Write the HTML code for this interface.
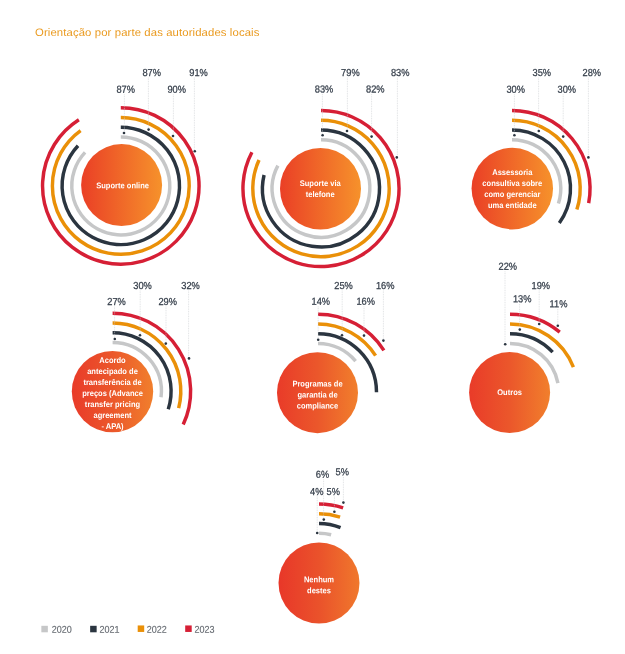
<!DOCTYPE html>
<html lang="pt"><head><meta charset="utf-8"><title>Orientação por parte das autoridades locais</title>
<style>
html,body{margin:0;padding:0;background:#fff;}
body{width:625px;height:654px;overflow:hidden;font-family:"Liberation Sans",sans-serif;}
svg{display:block;opacity:0.999;will-change:transform;}
svg text{font-family:"Liberation Sans",sans-serif;text-rendering:geometricPrecision;}
.lbl{font-size:10.1px;fill:#38414d;text-anchor:middle;stroke:#38414d;stroke-width:0.26px;}
.dt{font-size:8.2px;font-weight:bold;fill:#fff;text-anchor:middle;}
.lg{font-size:9.8px;fill:#62676e;stroke:#62676e;stroke-width:0.12px;}
.ld{stroke:#c9ccd0;stroke-width:0.6;stroke-dasharray:0.9 0.8;fill:none;}
.ar{fill:none;stroke-width:3.45;}
</style></head><body>
<svg width="625" height="654" viewBox="0 0 625 654">
<defs><linearGradient id="g1" x1="0" y1="0" x2="1" y2="0"><stop offset="0" stop-color="#ea3f26"/><stop offset="1" stop-color="#f6922b"/></linearGradient><linearGradient id="g2" x1="0" y1="0" x2="1" y2="0"><stop offset="0" stop-color="#e93b29"/><stop offset="0.5" stop-color="#eb572b"/><stop offset="1" stop-color="#f17f2c"/></linearGradient><linearGradient id="g3" x1="0" y1="0" x2="1" y2="0"><stop offset="0" stop-color="#e83729"/><stop offset="0.5" stop-color="#ea522b"/><stop offset="1" stop-color="#f0782c"/></linearGradient></defs>
<rect width="625" height="654" fill="#fff"/>
<text transform="translate(35 36.1) rotate(0.02)" textLength="224.5" lengthAdjust="spacingAndGlyphs" style="font-size:10.9px;fill:#ea9a1f;letter-spacing:0.1px;">Orientação por parte das autoridades locais</text>
<g>
<path class="ar" stroke="#c6c7c8" d="M120.8 136.9A49 49 0 1 1 85.08 152.36"/>
<path class="ar" stroke="#2b3540" d="M120.8 127.2A58.7 58.7 0 1 1 78.01 145.72"/>
<path class="ar" stroke="#ea9008" d="M120.8 117.5A68.4 68.4 0 1 1 80.6 130.56"/>
<path class="ar" stroke="#d61f35" d="M120.8 107.65A78.25 78.25 0 1 1 78.87 119.83"/>
<path class="ld" d="M124.4 94.4V133"/>
<path class="ld" d="M148.4 77.6V129.6"/>
<path class="ld" d="M173.4 94.4V136"/>
<path class="ld" d="M194.4 77.6V151.2"/>
<circle cx="124" cy="133" r="1.3" fill="#2b3540"/>
<circle cx="148.6" cy="129.6" r="1.3" fill="#2b3540"/>
<circle cx="173" cy="136" r="1.3" fill="#2b3540"/>
<circle cx="194.8" cy="151.2" r="1.3" fill="#2b3540"/>
<text class="lbl" transform="translate(125.7 92.75) rotate(0.05) scale(0.92 1)">87%</text>
<text class="lbl" transform="translate(151.7 75.95) rotate(0.05) scale(0.92 1)">87%</text>
<text class="lbl" transform="translate(176.7 92.75) rotate(0.05) scale(0.92 1)">90%</text>
<text class="lbl" transform="translate(198.5 75.95) rotate(0.05) scale(0.92 1)">91%</text>
<ellipse cx="121.6" cy="185.1" rx="40.5" ry="41" fill="url(#g1)"/>
<text class="dt" transform="translate(122.6 188.3) rotate(0.05) scale(0.92 1)">Suporte online</text>
</g>
<g>
<path class="ar" stroke="#c6c7c8" d="M321 139.7A48.8 48.8 0 1 1 277.87 165.67"/>
<path class="ar" stroke="#2b3540" d="M321 130A58.5 58.5 0 1 1 264.07 175.02"/>
<path class="ar" stroke="#ea9008" d="M321 120.3A68.2 68.2 0 1 1 259.02 160.04"/>
<path class="ar" stroke="#d61f35" d="M321 110.45A78.05 78.05 0 1 1 251.91 152.19"/>
<path class="ld" d="M322.4 94.2V135.2"/>
<path class="ld" d="M347.4 77.6V131"/>
<path class="ld" d="M371.6 94.2V136.6"/>
<path class="ld" d="M397.4 77.6V157.4"/>
<circle cx="322.6" cy="135.2" r="1.3" fill="#2b3540"/>
<circle cx="347" cy="131" r="1.3" fill="#2b3540"/>
<circle cx="371.6" cy="136.6" r="1.3" fill="#2b3540"/>
<circle cx="396.8" cy="157.4" r="1.3" fill="#2b3540"/>
<text class="lbl" transform="translate(324 92.55) rotate(0.05) scale(0.92 1)">83%</text>
<text class="lbl" transform="translate(350.4 75.95) rotate(0.05) scale(0.92 1)">79%</text>
<text class="lbl" transform="translate(375.3 92.55) rotate(0.05) scale(0.92 1)">82%</text>
<text class="lbl" transform="translate(400.2 75.95) rotate(0.05) scale(0.92 1)">83%</text>
<ellipse cx="320.5" cy="188.75" rx="40.5" ry="40.85" fill="url(#g1)"/>
<text class="dt" transform="translate(320.2 185.95) rotate(0.05) scale(0.92 1)">Suporte via</text>
<text class="dt" transform="translate(320.2 196.95) rotate(0.05) scale(0.92 1)">telefone</text>
</g>
<g>
<path class="ar" stroke="#c6c7c8" d="M512 139.7A48.8 48.8 0 0 1 558.41 203.58"/>
<path class="ar" stroke="#2b3540" d="M512 130A58.5 58.5 0 0 1 559.33 222.89"/>
<path class="ar" stroke="#ea9008" d="M512 120.3A68.2 68.2 0 0 1 576.86 209.57"/>
<path class="ar" stroke="#d61f35" d="M512 110.45A78.05 78.05 0 0 1 588.67 203.13"/>
<path class="ld" d="M514.4 94.4V135.2"/>
<path class="ld" d="M538.6 77.6V131"/>
<path class="ld" d="M563.2 94.4V136.6"/>
<path class="ld" d="M588.4 77.6V157.4"/>
<circle cx="514.4" cy="135.2" r="1.3" fill="#2b3540"/>
<circle cx="538.8" cy="131" r="1.3" fill="#2b3540"/>
<circle cx="563.2" cy="136.6" r="1.3" fill="#2b3540"/>
<circle cx="588.4" cy="157.4" r="1.3" fill="#2b3540"/>
<text class="lbl" transform="translate(515.7 92.75) rotate(0.05) scale(0.92 1)">30%</text>
<text class="lbl" transform="translate(541.8 75.95) rotate(0.05) scale(0.92 1)">35%</text>
<text class="lbl" transform="translate(566.8 92.75) rotate(0.05) scale(0.92 1)">30%</text>
<text class="lbl" transform="translate(591.8 75.95) rotate(0.05) scale(0.92 1)">28%</text>
<ellipse cx="512.3" cy="188.6" rx="40.75" ry="40.8" fill="url(#g1)"/>
<text class="dt" transform="translate(512.3 175.1) rotate(0.05) scale(0.92 1)">Assessoria</text>
<text class="dt" transform="translate(512.3 186.1) rotate(0.05) scale(0.92 1)">consultiva sobre</text>
<text class="dt" transform="translate(512.3 197.1) rotate(0.05) scale(0.92 1)">como gerenciar</text>
<text class="dt" transform="translate(512.3 208.1) rotate(0.05) scale(0.92 1)">uma entidade</text>
</g>
<g>
<path class="ar" stroke="#c6c7c8" d="M112.6 342.4A48.8 48.8 0 0 1 161.02 397.32"/>
<path class="ar" stroke="#2b3540" d="M112.6 332.7A58.5 58.5 0 0 1 168.24 409.28"/>
<path class="ar" stroke="#ea9008" d="M112.6 323A68.2 68.2 0 0 1 178.66 408.16"/>
<path class="ar" stroke="#d61f35" d="M112.6 313.15A78.05 78.05 0 0 1 183.22 424.43"/>
<path class="ld" d="M114.6 306.6V339"/>
<path class="ld" d="M140.2 290.6V335.2"/>
<path class="ld" d="M166 306.6V343.6"/>
<path class="ld" d="M188.6 290.6V358.4"/>
<circle cx="114.8" cy="339" r="1.3" fill="#2b3540"/>
<circle cx="140" cy="335.2" r="1.3" fill="#2b3540"/>
<circle cx="165.8" cy="343.6" r="1.3" fill="#2b3540"/>
<circle cx="189" cy="358.4" r="1.3" fill="#2b3540"/>
<text class="lbl" transform="translate(116.5 304.95) rotate(0.05) scale(0.92 1)">27%</text>
<text class="lbl" transform="translate(142.5 288.95) rotate(0.05) scale(0.92 1)">30%</text>
<text class="lbl" transform="translate(167.7 304.95) rotate(0.05) scale(0.92 1)">29%</text>
<text class="lbl" transform="translate(190.5 288.95) rotate(0.05) scale(0.92 1)">32%</text>
<ellipse cx="112.5" cy="391.6" rx="40.7" ry="40.7" fill="url(#g2)"/>
<text class="dt" transform="translate(112.5 363) rotate(0.05) scale(0.92 1)">Acordo</text>
<text class="dt" transform="translate(112.5 374) rotate(0.05) scale(0.92 1)">antecipado de</text>
<text class="dt" transform="translate(112.5 385) rotate(0.05) scale(0.92 1)">transferência de</text>
<text class="dt" transform="translate(112.5 396) rotate(0.05) scale(0.92 1)">preços (Advance</text>
<text class="dt" transform="translate(112.5 407) rotate(0.05) scale(0.92 1)">transfer pricing</text>
<text class="dt" transform="translate(112.5 418) rotate(0.05) scale(0.92 1)">agreement</text>
<text class="dt" transform="translate(112.5 429) rotate(0.05) scale(0.92 1)">- APA)</text>
</g>
<g>
<path class="ar" stroke="#c6c7c8" d="M318 343.4A48.8 48.8 0 0 1 355.6 361.09"/>
<path class="ar" stroke="#2b3540" d="M318 333.7A58.5 58.5 0 0 1 376.5 392.2"/>
<path class="ar" stroke="#ea9008" d="M318 324A68.2 68.2 0 0 1 375.58 355.66"/>
<path class="ar" stroke="#d61f35" d="M318 314.15A78.05 78.05 0 0 1 383.9 350.38"/>
<path class="ld" d="M318.2 306.4V339.8"/>
<path class="ld" d="M342.2 290.6V335.2"/>
<path class="ld" d="M364 306.4V335.6"/>
<path class="ld" d="M383.4 290.6V340.6"/>
<circle cx="318.2" cy="339.8" r="1.3" fill="#2b3540"/>
<circle cx="342" cy="335.2" r="1.3" fill="#2b3540"/>
<circle cx="364" cy="335.6" r="1.3" fill="#2b3540"/>
<circle cx="383.4" cy="340.6" r="1.3" fill="#2b3540"/>
<text class="lbl" transform="translate(320.8 304.75) rotate(0.05) scale(0.92 1)">14%</text>
<text class="lbl" transform="translate(343.5 288.95) rotate(0.05) scale(0.92 1)">25%</text>
<text class="lbl" transform="translate(365.7 304.75) rotate(0.05) scale(0.92 1)">16%</text>
<text class="lbl" transform="translate(385.2 288.95) rotate(0.05) scale(0.92 1)">16%</text>
<ellipse cx="317.5" cy="392.7" rx="40.5" ry="40.5" fill="url(#g2)"/>
<text class="dt" transform="translate(317.5 386.4) rotate(0.05) scale(0.92 1)">Programas de</text>
<text class="dt" transform="translate(317.5 397.4) rotate(0.05) scale(0.92 1)">garantia de</text>
<text class="dt" transform="translate(317.5 408.4) rotate(0.05) scale(0.92 1)">compliance</text>
</g>
<g>
<path class="ar" stroke="#c6c7c8" d="M510 343.4A48.8 48.8 0 0 1 557.94 383.06"/>
<path class="ar" stroke="#2b3540" d="M510 333.7A58.5 58.5 0 0 1 552.64 352.15"/>
<path class="ar" stroke="#ea9008" d="M510 324A68.2 68.2 0 0 1 573.41 367.09"/>
<path class="ar" stroke="#d61f35" d="M510 314.15A78.05 78.05 0 0 1 559.75 332.06"/>
<path class="ld" d="M505 271.4V344.2"/>
<path class="ld" d="M519.6 304V329.6"/>
<path class="ld" d="M539.2 290.6V324"/>
<path class="ld" d="M557.8 309V325.8"/>
<circle cx="505.2" cy="344.2" r="1.3" fill="#2b3540"/>
<circle cx="519.8" cy="329.6" r="1.3" fill="#2b3540"/>
<circle cx="539.2" cy="324" r="1.3" fill="#2b3540"/>
<circle cx="557.8" cy="325.8" r="1.3" fill="#2b3540"/>
<text class="lbl" transform="translate(507.8 269.75) rotate(0.05) scale(0.92 1)">22%</text>
<text class="lbl" transform="translate(522.2 302.35) rotate(0.05) scale(0.92 1)">13%</text>
<text class="lbl" transform="translate(540.8 288.95) rotate(0.05) scale(0.92 1)">19%</text>
<text class="lbl" transform="translate(558.5 307.35) rotate(0.05) scale(0.92 1)">11%</text>
<ellipse cx="509.6" cy="392.55" rx="40.5" ry="40.5" fill="url(#g2)"/>
<text class="dt" transform="translate(509.6 394.95) rotate(0.05) scale(0.92 1)">Outros</text>
</g>
<g>
<path class="ar" stroke="#c6c7c8" d="M319 533.2A48.8 48.8 0 0 1 331.14 534.73"/>
<path class="ar" stroke="#2b3540" d="M319 523.5A58.5 58.5 0 0 1 340.54 527.61"/>
<path class="ar" stroke="#ea9008" d="M319 513.8A68.2 68.2 0 0 1 340.07 517.14"/>
<path class="ar" stroke="#d61f35" d="M319 503.95A78.05 78.05 0 0 1 343.12 507.77"/>
<path class="ld" d="M317.2 496.6V533"/>
<path class="ld" d="M323.6 479.4V519.6"/>
<path class="ld" d="M334.4 496.6V511.8"/>
<path class="ld" d="M343.4 477V502.6"/>
<circle cx="317.2" cy="533" r="1.3" fill="#2b3540"/>
<circle cx="323.8" cy="519.6" r="1.3" fill="#2b3540"/>
<circle cx="334.4" cy="511.8" r="1.3" fill="#2b3540"/>
<circle cx="343.4" cy="502.6" r="1.3" fill="#2b3540"/>
<text class="lbl" transform="translate(316.8 494.95) rotate(0.05) scale(0.92 1)">4%</text>
<text class="lbl" transform="translate(322.5 477.75) rotate(0.05) scale(0.92 1)">6%</text>
<text class="lbl" transform="translate(333.2 494.95) rotate(0.05) scale(0.92 1)">5%</text>
<text class="lbl" transform="translate(342.3 475.35) rotate(0.05) scale(0.92 1)">5%</text>
<ellipse cx="319" cy="583" rx="40.5" ry="40.5" fill="url(#g3)"/>
<text class="dt" transform="translate(319 582.3) rotate(0.05) scale(0.92 1)">Nenhum</text>
<text class="dt" transform="translate(319 593.3) rotate(0.05) scale(0.92 1)">destes</text>
</g>
<rect x="41.35" y="625.8" width="6.5" height="6.5" fill="#c6c7c8"/>
<text class="lg" transform="translate(51.7 632.75) rotate(0.05) scale(0.92 1)">2020</text>
<rect x="90.15" y="625.8" width="6.5" height="6.5" fill="#2b3540"/>
<text class="lg" transform="translate(99.4 632.75) rotate(0.05) scale(0.92 1)">2021</text>
<rect x="137.7" y="625.45" width="6.5" height="6.5" fill="#ea9008"/>
<text class="lg" transform="translate(146.7 632.75) rotate(0.05) scale(0.92 1)">2022</text>
<rect x="185.2" y="625.45" width="6.5" height="6.5" fill="#d61f35"/>
<text class="lg" transform="translate(194.4 632.75) rotate(0.05) scale(0.92 1)">2023</text>
</svg></body></html>
